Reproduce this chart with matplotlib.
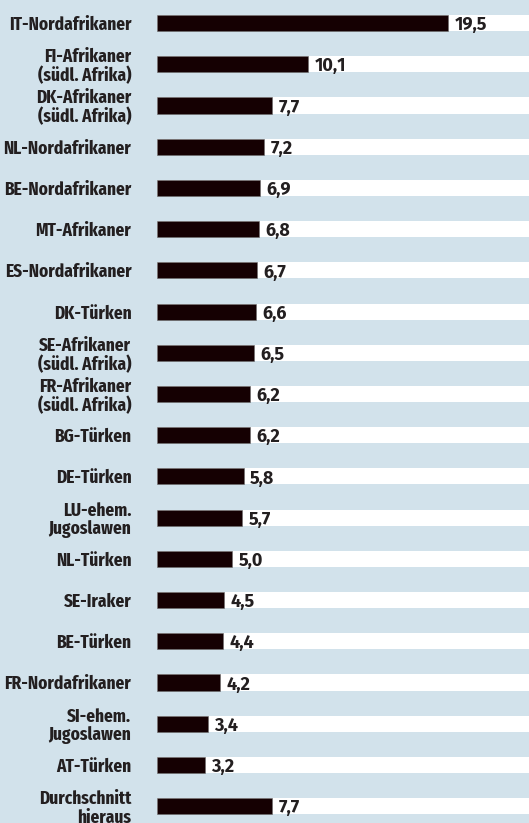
import matplotlib
matplotlib.use("Agg")
import matplotlib.pyplot as plt

labels = ["IT-Nordafrikaner", "FI-Afrikaner\n(südl. Afrika)", "DK-Afrikaner\n(südl. Afrika)",
          "NL-Nordafrikaner", "BE-Nordafrikaner", "MT-Afrikaner", "ES-Nordafrikaner",
          "DK-Türken", "SE-Afrikaner\n(südl. Afrika)", "FR-Afrikaner\n(südl. Afrika)",
          "BG-Türken", "DE-Türken", "LU-ehem.\nJugoslawen", "NL-Türken", "SE-Iraker",
          "BE-Türken", "FR-Nordafrikaner", "SI-ehem.\nJugoslawen", "AT-Türken",
          "Durchschnitt\nhieraus"]
values = [19.5, 10.1, 7.7, 7.2, 6.9, 6.8, 6.7, 6.6, 6.5, 6.2, 6.2, 5.8, 5.7, 5.0, 4.5,
          4.4, 4.2, 3.4, 3.2, 7.7]

bg = "#d2e2eb"
bar_col = "#150002"
txt_col = "#231f20"
label_font = ["Fira Sans Extra Condensed", "Fira Sans Condensed", "DejaVu Sans"]
value_font = ["Fira Sans", "DejaVu Sans"]

fig = plt.figure(figsize=(5.29, 8.23), dpi=100)
fig.patch.set_facecolor(bg)
ax = fig.add_axes([157 / 529, 0, 1 - 157 / 529, 1])
ax.set_facecolor(bg)

xmax = (529 - 157) / 14.93
n = len(values)
ypos = list(range(n))
h = 0.39

ax.barh(ypos, [xmax] * n, height=h, color="white", left=0, zorder=1)
ax.barh(ypos, values, height=h, color=bar_col, edgecolor="#6b6b6b", linewidth=0.4, zorder=2)

for y, v in zip(ypos, values):
    ax.text(v + 0.45, y + 0.05, f"{v:.1f}".replace(".", ","), va="center", ha="left",
            fontsize=13, fontweight="bold", color=txt_col, family=value_font, zorder=3)

ax.set_xlim(0, xmax)
ax.set_ylim(n - 1 + 0.41, -0.56)
ax.set_yticks(ypos)
ax.set_yticklabels(labels)
for t in ax.get_yticklabels():
    t.set_family(label_font)
    t.set_fontweight("bold")
    t.set_fontsize(13.5)
    t.set_color(txt_col)
    t.set_linespacing(1.05)
    t.set_horizontalalignment("right")
ax.tick_params(axis="y", length=0, pad=18.5)
ax.set_xticks([])
for s in ax.spines.values():
    s.set_visible(False)

fig.savefig("out.png", dpi=100, facecolor=bg)
